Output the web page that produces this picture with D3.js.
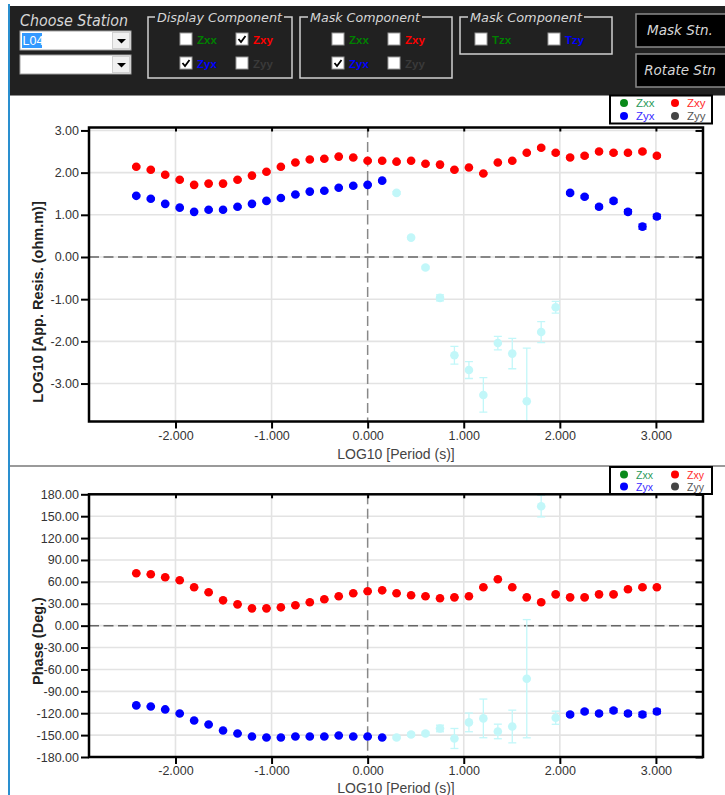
<!DOCTYPE html>
<html>
<head>
<meta charset="utf-8">
<script src="https://cdn.jsdelivr.net/npm/d3@7"></script>
<style>
  body { margin: 0; background: #fff; }
  svg { display: block; }
</style>
</head>
<body>
<div id="app"></div>
<script>
// log10 des périodes (s)
const logPeriod = [-2.408, -2.257, -2.107, -1.956, -1.806, -1.655, -1.505, -1.354, -1.204, -1.053,
  -0.903, -0.752, -0.602, -0.451, -0.301, -0.150, 0.000, 0.151, 0.301, 0.452,
  0.602, 0.753, 0.903, 1.054, 1.204, 1.355, 1.505, 1.656, 1.806, 1.957,
  2.107, 2.258, 2.408, 2.559, 2.709, 2.860, 3.010];

// log10 résistivité apparente
const rhoXY = [2.14, 2.07, 1.95, 1.83, 1.71, 1.74, 1.74, 1.83, 1.93, 2.02,
  2.14, 2.24, 2.31, 2.33, 2.38, 2.36, 2.28, 2.28, 2.26, 2.28,
  2.21, 2.19, 2.07, 2.12, 1.98, 2.24, 2.28, 2.47, 2.59, 2.47,
  2.36, 2.40, 2.50, 2.47, 2.47, 2.50, 2.40];
const rhoXYErr = [0.02, 0.02, 0.02, 0.02, 0.02, 0.02, 0.02, 0.02, 0.02, 0.02,
  0.02, 0.02, 0.02, 0.02, 0.02, 0.02, 0.02, 0.02, 0.02, 0.02,
  0.02, 0.02, 0.02, 0.02, 0.02, 0.02, 0.02, 0.02, 0.03, 0.03,
  0.03, 0.03, 0.03, 0.03, 0.03, 0.03, 0.03];
const rhoYX = [1.45, 1.38, 1.26, 1.17, 1.07, 1.12, 1.12, 1.19, 1.26, 1.33,
  1.40, 1.48, 1.55, 1.57, 1.64, 1.69, 1.71, 1.81, 1.52, 0.46,
  -0.25, -0.97, -2.33, -2.68, -3.27, -2.04, -2.29, -3.42, -1.78, -1.19,
  1.52, 1.43, 1.19, 1.33, 1.07, 0.72, 0.96];
const rhoYXErr = [0.02, 0.02, 0.02, 0.02, 0.02, 0.02, 0.02, 0.02, 0.02, 0.02,
  0.02, 0.02, 0.02, 0.02, 0.02, 0.02, 0.02, 0.02, 0.03, 0.03,
  0.03, 0.07, 0.21, 0.20, 0.41, 0.16, 0.36, 1.26, 0.25, 0.14,
  0.03, 0.03, 0.04, 0.04, 0.05, 0.06, 0.05];

// phase (degrés)
const phsXY = [71.8, 70.4, 66.3, 62.2, 52.6, 45.7, 34.7, 29.2, 23.7, 23.7,
  25.1, 27.9, 32.0, 36.1, 40.2, 44.3, 47.1, 48.4, 44.3, 41.6,
  40.2, 37.5, 38.8, 40.2, 52.6, 63.5, 52.6, 38.8, 32.0, 42.9,
  38.8, 38.8, 42.9, 42.9, 49.8, 52.6, 52.6];
const phsXYErr = [1, 1, 1, 1, 1, 1, 1, 1, 1, 1,
  1, 1, 1, 1, 1, 1, 1, 1, 1, 1,
  1, 1, 1, 1, 1, 1, 1, 1, 1.5, 1.5,
  1.5, 1.5, 1.5, 1.5, 1.5, 1.5, 1.5];
const phsYX = [-109.3, -110.7, -114.8, -120.3, -129.9, -135.4, -143.6, -147.8, -151.9, -153.2,
  -153.2, -151.9, -151.9, -151.9, -150.5, -151.9, -151.9, -153.2, -153.2, -149.1,
  -147.8, -140.9, -154.6, -132.6, -127.1, -145.0, -138.2, -72.7, 163.7, -126.2,
  -121.7, -117.6, -120.3, -116.2, -120.3, -121.7, -117.6];
const phsYXErr = [1, 1, 1, 1, 1, 1, 1, 1, 1, 1,
  1, 1, 1, 1, 1, 1, 1, 1, 1.5, 2,
  2, 4.5, 13.7, 12.8, 26.5, 10, 22.4, 81, 14.7, 9,
  2, 2, 2, 2.5, 2.5, 3, 3];

// points masqués (Zyx), 1 = masqué
const yxMasked = [0, 0, 0, 0, 0, 0, 0, 0, 0, 0,
  0, 0, 0, 0, 0, 0, 0, 0, 1, 1,
  1, 1, 1, 1, 1, 1, 1, 1, 1, 1,
  0, 0, 0, 0, 0, 0, 0];

// ticks
const xTicks = [-2, -1, 0, 1, 2, 3];
const rhoTicks = [-3, -2, -1, 0, 1, 2, 3];
const phsTicks = [-180, -150, -120, -90, -60, -30, 0, 30, 60, 90, 120, 150, 180];

const W = 725, H = 795;
const svg = d3.select("#app").append("svg")
  .attr("width", W).attr("height", H)
  .attr("viewBox", [0, 0, W, H]);

const hand = "'DejaVu Sans', sans-serif";
const arial = "'Liberation Sans', Arial, sans-serif";

// ---------- barre d'outils ----------
const bar = svg.append("g");
bar.append("rect").attr("x", 10).attr("y", 6).attr("width", W - 10).attr("height", 89).attr("fill", "#212121");

bar.append("text").attr("x", 20).attr("y", 26).text("Choose Station")
  .attr("font-family", hand).attr("font-style", "italic").attr("font-size", 15.5)
  .attr("fill", "#d6d6d6").attr("textLength", 108).attr("lengthAdjust", "spacingAndGlyphs");

function combo(y, txt) {
  const g = bar.append("g");
  g.append("rect").attr("x", 20).attr("y", y).attr("width", 111).attr("height", 19)
    .attr("fill", "#fff").attr("stroke", "#a0a0a0");
  g.append("rect").attr("x", 112.5).attr("y", y + 1.5).attr("width", 17).attr("height", 16)
    .attr("fill", "#f0f0f0").attr("stroke", "#d0d0d0");
  g.append("path").attr("d", `M117,${y + 8}h9l-4.5,4.5z`).attr("fill", "#000");
  if (txt) {
    g.append("rect").attr("x", 22).attr("y", y + 2).attr("width", 20).attr("height", 15).attr("fill", "#3399ff");
    g.append("text").attr("x", 22.5).attr("y", y + 14).text(txt)
      .attr("font-family", arial).attr("font-size", 12.5).attr("fill", "#fff");
  }
}
combo(31, "L04");
combo(55, "");

function group(x, y, w, h, title, tx, tw) {
  bar.append("rect").attr("x", x).attr("y", y).attr("width", w).attr("height", h)
    .attr("fill", "none").attr("stroke", "#d0d0d0").attr("stroke-width", 1.5);
  bar.append("rect").attr("x", tx - 2).attr("y", y - 3).attr("width", tw + 4).attr("height", 6).attr("fill", "#212121");
  bar.append("text").attr("x", tx).attr("y", y + 5).text(title)
    .attr("font-family", hand).attr("font-style", "italic").attr("font-size", 13)
    .attr("fill", "#d6d6d6").attr("textLength", tw).attr("lengthAdjust", "spacingAndGlyphs");
}
group(148, 17, 144, 61, "Display Component", 157, 125);
group(300, 17, 152, 61, "Mask Component", 310, 110);
group(460, 17, 152, 37, "Mask Component", 470, 112);

function checkbox(x, y, checked, label, color) {
  bar.append("rect").attr("x", x).attr("y", y).attr("width", 12).attr("height", 12)
    .attr("fill", "#fff").attr("stroke", "#9a9a9a");
  if (checked) {
    bar.append("path").attr("d", `M${x + 2.5},${y + 6}l2.5,3l4.5,-6`)
      .attr("fill", "none").attr("stroke", "#000").attr("stroke-width", 1.8);
  }
  bar.append("text").attr("x", x + 17).attr("y", y + 10.5).text(label)
    .attr("font-family", arial).attr("font-weight", "bold").attr("font-size", 11.5).attr("fill", color);
}
const cGreen = "#008000", cRed = "#ff0000", cBlue = "#0000ff", cGray = "#3a3a3a";
checkbox(180, 33, false, "Zxx", cGreen);
checkbox(236, 33, true, "Zxy", cRed);
checkbox(180, 57, true, "Zyx", cBlue);
checkbox(236, 57, false, "Zyy", cGray);
checkbox(332, 33, false, "Zxx", cGreen);
checkbox(388, 33, false, "Zxy", cRed);
checkbox(332, 57, true, "Zyx", cBlue);
checkbox(388, 57, false, "Zyy", cGray);
checkbox(475, 33, false, "Tzx", cGreen);
checkbox(548, 33, false, "Tzy", cBlue);

function button(y, label) {
  bar.append("rect").attr("x", 636).attr("y", y).attr("width", 95).attr("height", 33)
    .attr("fill", "#000").attr("stroke", "#8a8a8a").attr("stroke-width", 1.5);
  bar.append("text").attr("x", 680).attr("y", y + 21).attr("text-anchor", "middle").text(label)
    .attr("font-family", hand).attr("font-style", "italic").attr("font-size", 13.5).attr("fill", "#d6d6d6");
}
button(14, "Mask Stn.");
button(54, "Rotate Stn");

// bordures du panneau
svg.append("line").attr("x1", 10).attr("x2", W).attr("y1", 95.5).attr("y2", 95.5).attr("stroke", "#8c8c8c");
svg.append("line").attr("x1", 10).attr("x2", W).attr("y1", 466).attr("y2", 466).attr("stroke", "#9a9a9a").attr("stroke-width", 2);
svg.append("line").attr("x1", 9).attr("x2", 9).attr("y1", 4).attr("y2", H).attr("stroke", "#2a8fcf").attr("stroke-width", 2);

// ---------- graphiques ----------
const x = d3.scaleLinear().domain([-2.9, 3.49]).range([89, 703]);

function panel(opt) {
  const { y, ticks, fmt, series, ylabel, ylabelY, xlabelY, id } = opt;
  const [top, bottom] = [y.range()[1], y.range()[0]];
  const left = x.range()[0], right = x.range()[1];
  const g = svg.append("g");

  g.append("defs").append("clipPath").attr("id", id)
    .append("rect").attr("x", left).attr("y", top).attr("width", right - left).attr("height", bottom - top);

  // grille
  g.append("g").selectAll("line").data(ticks).join("line")
    .attr("x1", left).attr("x2", right).attr("y1", d => y(d)).attr("y2", d => y(d))
    .attr("stroke", "#e3e3e3").attr("stroke-width", 1.6);
  g.append("g").selectAll("line").data(xTicks.filter(d => d !== 0)).join("line")
    .attr("x1", d => x(d)).attr("x2", d => x(d)).attr("y1", top).attr("y2", bottom)
    .attr("stroke", "#e3e3e3").attr("stroke-width", 1.6);

  // lignes zéro en tirets
  g.append("line").attr("x1", left).attr("x2", right).attr("y1", y(0)).attr("y2", y(0))
    .attr("stroke", "#666").attr("stroke-width", 1.5).attr("stroke-dasharray", "10,4.5");
  g.append("line").attr("x1", x(0)).attr("x2", x(0)).attr("y1", top).attr("y2", bottom)
    .attr("stroke", "#888").attr("stroke-width", 1.5).attr("stroke-dasharray", "10,4.5");

  const plot = g.append("g").attr("clip-path", `url(#${id})`);
  series.forEach(s => {
    const rows = logPeriod.map((p, i) => ({ p, v: s.v[i], e: s.e[i], m: s.mask ? s.mask[i] : 0 }));
    const col = d => d.m ? "#c2f7f9" : s.color;
    const eb = plot.append("g").selectAll("g").data(rows).join("g")
      .attr("stroke", col).attr("stroke-width", 1.3);
    eb.append("line").attr("x1", d => x(d.p)).attr("x2", d => x(d.p))
      .attr("y1", d => y(d.v - d.e)).attr("y2", d => y(d.v + d.e));
    eb.append("line").attr("x1", d => x(d.p) - 4).attr("x2", d => x(d.p) + 4)
      .attr("y1", d => y(d.v - d.e)).attr("y2", d => y(d.v - d.e));
    eb.append("line").attr("x1", d => x(d.p) - 4).attr("x2", d => x(d.p) + 4)
      .attr("y1", d => y(d.v + d.e)).attr("y2", d => y(d.v + d.e));
    plot.append("g").selectAll("circle").data(rows).join("circle")
      .attr("cx", d => x(d.p)).attr("cy", d => y(d.v)).attr("r", 4.3)
      .attr("fill", col);
  });

  // axes
  const axL = g.append("g").attr("transform", `translate(${left},0)`)
    .call(d3.axisLeft(y).tickValues(ticks).tickFormat(fmt).tickSize(8).tickPadding(2).tickSizeOuter(0));
  const axR = g.append("g").attr("transform", `translate(${right},0)`)
    .call(d3.axisRight(y).tickValues(ticks).tickFormat("").tickSize(-7.5).tickSizeOuter(0));
  const axB = g.append("g").attr("transform", `translate(0,${bottom})`)
    .call(d3.axisBottom(x).tickValues(xTicks).tickFormat(d3.format(".3f")).tickSize(7).tickPadding(2.5).tickSizeOuter(0));
  const axT = g.append("g").attr("transform", `translate(0,${top})`)
    .call(d3.axisTop(x).tickValues(xTicks).tickFormat("").tickSize(-4).tickSizeOuter(0));
  [axL, axR, axB, axT].forEach(a => {
    a.select(".domain").remove();
    a.selectAll(".tick line").attr("stroke", "#000").attr("stroke-width", 2);
    a.selectAll("text").attr("font-family", arial).attr("font-size", 12.5).attr("fill", "#333");
  });
  axB.selectAll(".tick text").text(d => d3.format(".3f")(d).replace("−", "-"));
  axL.selectAll(".tick text").text(d => fmt(d).replace("−", "-"));

  // cadre
  g.append("rect").attr("x", left).attr("y", top).attr("width", right - left).attr("height", bottom - top)
    .attr("fill", "none").attr("stroke", "#000").attr("stroke-width", 2.5);

  // titres des axes
  g.append("text").attr("transform", `translate(43,${ylabelY}) rotate(-90)`)
    .attr("text-anchor", "middle").text(ylabel)
    .attr("font-family", arial).attr("font-weight", "bold").attr("font-size", 14.5).attr("fill", "#222");
  g.append("text").attr("x", (left + right) / 2).attr("y", xlabelY).attr("text-anchor", "middle")
    .text("LOG10 [Period (s)]")
    .attr("font-family", arial).attr("font-size", 14).attr("fill", "#444");
}

function legend(y0, gap, fs) {
  const g = svg.append("g");
  g.append("rect").attr("x", 610).attr("y", y0).attr("width", 102).attr("height", gap + 15)
    .attr("fill", "#fff").attr("stroke", "#000").attr("stroke-width", 2);
  const items = [
    { t: "Zxx", c: "#0a8a1a", tc: "#2a9a5a", col: 0, row: 0 },
    { t: "Zxy", c: "#ff0000", tc: "#ff2a2a", col: 1, row: 0 },
    { t: "Zyx", c: "#0000ff", tc: "#3a2aff", col: 0, row: 1 },
    { t: "Zyy", c: "#444", tc: "#555", col: 1, row: 1 }
  ];
  items.forEach(d => {
    const cy = y0 + 7.5 + d.row * gap;
    const cx = 624 + d.col * 51;
    g.append("circle").attr("cx", cx).attr("cy", cy).attr("r", 4).attr("fill", d.c);
    g.append("text").attr("x", cx + 12).attr("y", cy + 4).text(d.t)
      .attr("font-family", arial).attr("font-size", fs).attr("fill", d.tc);
  });
}

panel({
  id: "clipRho",
  y: d3.scaleLinear().domain([-3.9, 3.07]).range([421.5, 127.5]),
  ticks: rhoTicks,
  fmt: d3.format(".2f"),
  ylabel: "LOG10 [App. Resis. (ohm.m)]",
  ylabelY: 302,
  xlabelY: 458.5,
  series: [
    { v: rhoXY, e: rhoXYErr, color: "#ff0000" },
    { v: rhoYX, e: rhoYXErr, color: "#0000ff", mask: yxMasked }
  ]
});
legend(95.5, 13, 11.5);

panel({
  id: "clipPhs",
  y: d3.scaleLinear().domain([-180, 180]).range([757, 494.3]),
  ticks: phsTicks,
  fmt: d3.format(".2f"),
  ylabel: "Phase (Deg.)",
  ylabelY: 641,
  xlabelY: 792.5,
  series: [
    { v: phsXY, e: phsXYErr, color: "#ff0000" },
    { v: phsYX, e: phsYXErr, color: "#0000ff", mask: yxMasked }
  ]
});
legend(467, 12, 10.5);
</script>
</body>
</html>
